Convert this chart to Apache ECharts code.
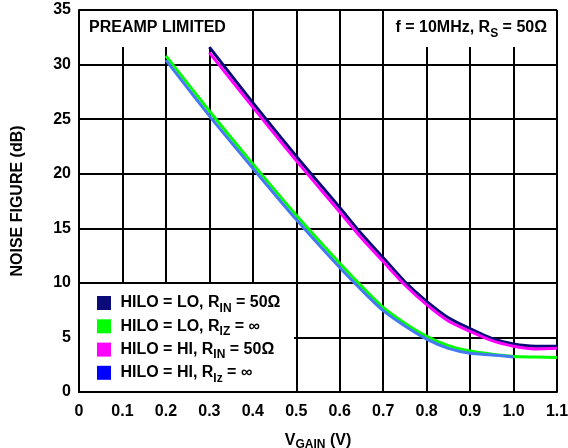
<!DOCTYPE html>
<html>
<head>
<meta charset="utf-8">
<script src="https://cdn.jsdelivr.net/npm/echarts@6/dist/echarts.min.js"></script>
<style>html,body{margin:0;padding:0;background:#fff}#c{width:568px;height:448px}</style>
</head>
<body>
<div id="c"></div>
<script>
// ---- data ----
const seriesNames = ['HILO = LO, RIN = 50Ω', 'HILO = LO, RIZ = ∞', 'HILO = HI, RIN = 50Ω', 'HILO = HI, RIz = ∞'];
const legendLabels = [' HILO = LO, R{s|IN} = 50Ω', ' HILO = LO, R{s|IZ} = ∞', ' HILO = HI, R{s|IN} = 50Ω', ' HILO = HI, R{s|Iz} = ∞'];
const seriesColors = ['#0a0a78', '#00ff00', '#ff00ff', '#4479f2'];
const legendColors = ['#0a0a78', '#00ff00', '#ff00ff', '#0000ff'];

const vLoRin = [0.3, 0.4, 0.5, 0.6, 0.65, 0.7, 0.75, 0.8, 0.85, 0.9, 0.95, 1.0, 1.05, 1.1];
const nfLoRin = [31.6, 26.5, 21.6, 16.9, 14.5, 12.3, 10.1, 8.3, 6.8, 5.8, 4.9, 4.4, 4.2, 4.2];

const vLoRiz = [0.2, 0.3, 0.4, 0.5, 0.6, 0.65, 0.7, 0.75, 0.8, 0.85, 0.9, 0.95, 1.0, 1.05, 1.1];
const nfLoRiz = [30.8, 25.75, 20.9, 16.2, 11.8, 9.7, 7.75, 6.3, 5.1, 4.25, 3.75, 3.45, 3.25, 3.2, 3.15];

const vHiRin = [0.3, 0.4, 0.5, 0.6, 0.65, 0.7, 0.75, 0.8, 0.85, 0.9, 0.95, 1.0, 1.05, 1.1];
const nfHiRin = [31.1, 26.1, 21.2, 16.5, 14.1, 11.95, 9.8, 8.0, 6.5, 5.55, 4.7, 4.2, 3.95, 4.0];

const vHiRiz = [0.2, 0.3, 0.4, 0.5, 0.6, 0.65, 0.7, 0.75, 0.8, 0.85, 0.9, 0.95, 1.0];
const nfHiRiz = [30.4, 25.3, 20.5, 15.8, 11.4, 9.35, 7.45, 6.05, 4.85, 4.0, 3.55, 3.4, 3.2];

const xTickLabels = ['0', '0.1', '0.2', '0.3', '0.4', '0.5', '0.6', '0.7', '0.8', '0.9', '1.0', '1.1'];
const yTickLabels = ['0', '5', '10', '15', '20', '25', '30', '35'];

const titleLeft = 'PREAMP LIMITED';
const titleRight = 'f = 10MHz, R{s|S} = 50Ω';
const xName = 'V{s|GAIN} (V)';
const yName = 'NOISE FIGURE (dB)';

// ---- chart ----
const FONT = '"Liberation Sans", Arial, Helvetica, sans-serif';
const subRich = {
  b: { fontFamily: FONT, fontWeight: 'bold', fontSize: 16, color: '#000' },
  s: { fontFamily: FONT, fontWeight: 'bold', fontSize: 12, color: '#000', padding: [11, 0, 0, 0] }
};
const xs = [vLoRin, vLoRiz, vHiRin, vHiRiz];
const ys = [nfLoRin, nfLoRiz, nfHiRin, nfHiRiz];

const series = seriesNames.map((n, i) => ({
  name: n,
  type: 'line',
  data: xs[i].map((v, j) => [v, ys[i][j]]),
  showSymbol: false,
  smooth: 0.25,
  lineStyle: { color: seriesColors[i], width: 3 },
  itemStyle: { color: legendColors[i] },
  z: 3 + i
}));

const legendTops = [295, 318.3, 341.6, 364.8];
const legends = seriesNames.map((n, i) => ({
  data: [n],
  orient: 'vertical',
  left: 97,
  top: legendTops[i],
  padding: 0,
  itemWidth: 14,
  itemHeight: 14,
  icon: 'rect',
  selectedMode: false,
  formatter: () => legendLabels[i],
  textStyle: {
    fontFamily: FONT, fontWeight: 'bold', fontSize: 16, color: '#000',
    rich: subRich
  }
}));

const chart = echarts.init(document.getElementById('c'), null, { renderer: 'canvas' });
chart.setOption({
  animation: false,
  backgroundColor: '#fff',
  grid: { left: 79, right: 11, top: 10, bottom: 56, containLabel: false, outerBoundsMode: 'none' },
  xAxis: {
    type: 'value', min: 0, max: 1.1, interval: 0.1,
    name: xName, nameLocation: 'middle', nameGap: 39,
    nameTextStyle: { fontFamily: FONT, fontWeight: 'bold', fontSize: 16, color: '#000', rich: {
      s: { fontFamily: FONT, fontWeight: 'bold', fontSize: 12, color: '#000', padding: [8, 0, 0, 0] } } },
    axisLine: { show: true, onZero: false, lineStyle: { color: '#000', width: 2 } },
    axisTick: { show: false },
    axisLabel: {
      margin: 12, fontFamily: FONT, fontWeight: 'bold', fontSize: 16, color: '#000',
      showMaxLabel: true, showMinLabel: true,
      formatter: v => xTickLabels[Math.round(v * 10)]
    },
    splitLine: { show: true, lineStyle: { color: '#000', width: 2 } }
  },
  yAxis: {
    type: 'value', min: 0, max: 35, interval: 5,
    name: yName, nameLocation: 'middle', nameGap: 53, nameRotate: 90,
    nameTextStyle: { fontFamily: FONT, fontWeight: 'bold', fontSize: 16, color: '#000' },
    axisLine: { show: true, lineStyle: { color: '#000', width: 2 } },
    axisTick: { show: false },
    axisLabel: {
      margin: 8, fontFamily: FONT, fontWeight: 'bold', fontSize: 16, color: '#000',
      formatter: v => yTickLabels[Math.round(v / 5)]
    },
    splitLine: { show: true, lineStyle: { color: '#000', width: 2 } }
  },
  legend: legends,
  graphic: [
    { type: 'rect', z: 1, shape: { x: 80, y: 11, width: 155, height: 36 }, style: { fill: '#fff' }, silent: true },
    { type: 'rect', z: 1, shape: { x: 388, y: 11, width: 168, height: 36 }, style: { fill: '#fff' }, silent: true },
    { type: 'rect', z: 1, shape: { x: 80, y: 284, width: 214, height: 107 }, style: { fill: '#fff' }, silent: true },
    { type: 'text', z: 2, x: 89, y: 28, style: { text: titleLeft, fill: '#000', font: 'bold 16px ' + FONT, verticalAlign: 'middle', align: 'left' }, silent: true },
    { type: 'text', z: 2, x: 547, y: 28, style: { text: titleRight, fill: '#000', font: 'bold 16px ' + FONT, verticalAlign: 'middle', align: 'right', rich: subRich }, silent: true }
  ],
  series: series
});
</script>
</body>
</html>
